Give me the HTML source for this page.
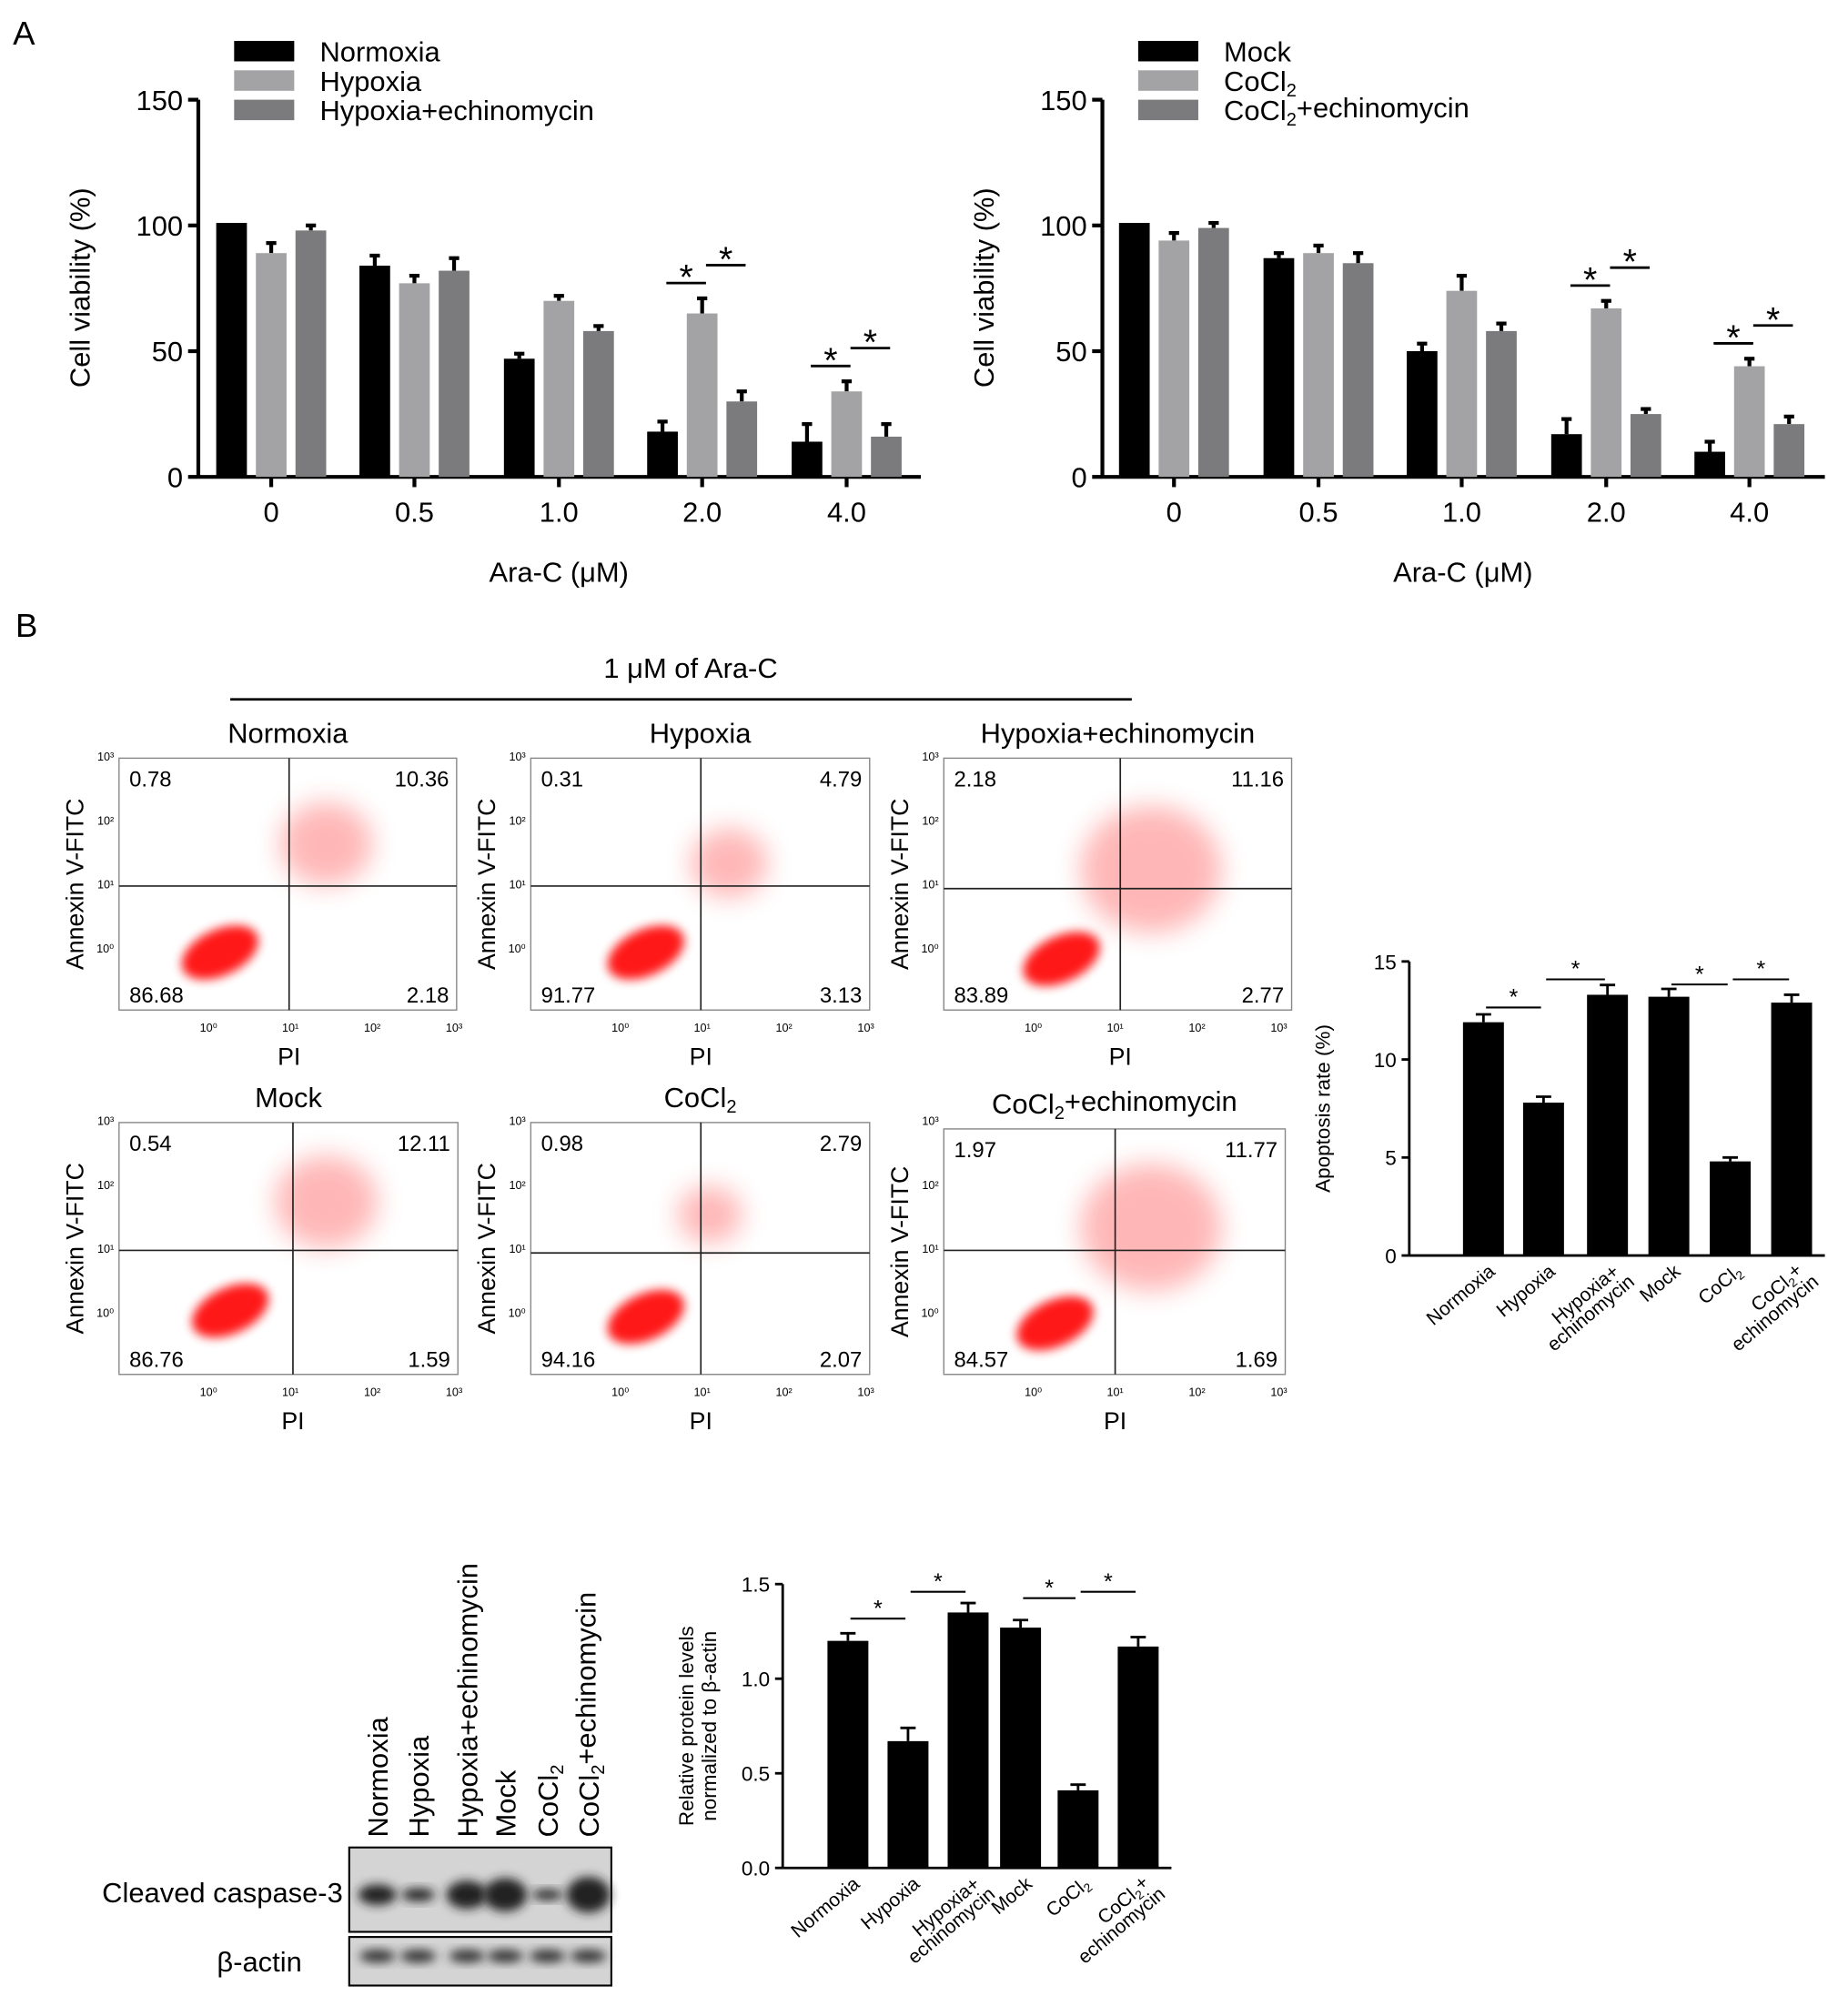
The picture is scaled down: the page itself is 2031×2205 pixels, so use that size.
<!DOCTYPE html>
<html><head><meta charset="utf-8"><style>
html,body{margin:0;padding:0;background:#fff}
svg{display:block;font-family:"Liberation Sans",Arial,sans-serif}
</style></head><body>
<svg id="fig" width="2031" height="2205" viewBox="0 0 1445 1569" xmlns="http://www.w3.org/2000/svg">
<defs><filter id="bl" x="-50%" y="-50%" width="200%" height="200%"><feGaussianBlur stdDeviation="4"/></filter>
<filter id="bl2" x="-50%" y="-50%" width="200%" height="200%"><feGaussianBlur stdDeviation="10"/></filter></defs>
<text x="10" y="35" font-size="26">A</text>
<text x="12" y="498" font-size="26">B</text>
<g id="g"></g>
</svg>
<script>
// Panel A data
const doses = ["0","0.5","1.0","2.0","4.0"];
const leftNames = ["Normoxia","Hypoxia","Hypoxia+echinomycin"];
const leftNorm = [101,84,47,18,14];
const leftHyp = [89,77,70,65,34];
const leftEch = [98,82,58,30,16];
const leftErr = [[0,4,2,4,7],[4,3,2,6,4],[2,5,2,4,5]];
const rightNames = ["Mock","CoCl2","CoCl2+echinomycin"];
const rightMock = [101,87,50,17,10];
const rightCo = [94,89,74,67,44];
const rightEch = [99,85,58,25,21];
const rightErr = [[0,2,3,6,4],[3,3,6,3,3],[2,4,3,2,3]];
const vTicks = [0,50,100,150];
// Apoptosis
const groups = ["Normoxia","Hypoxia","Hypoxia+\nechinomycin","Mock","CoCl2","CoCl2+\nechinomycin"];
const apopVals = [11.9,7.8,13.3,13.2,4.8,12.9];
const apopErr = [0.4,0.3,0.5,0.4,0.2,0.4];
const apopTicks = [0,5,10,15];
// Protein
const protVals = [1.20,0.67,1.35,1.27,0.41,1.17];
const protErr = [0.04,0.07,0.05,0.04,0.03,0.05];
const protTicks = [0,0.5,1.0,1.5];
// Flow quadrant numbers
const flowTitles = ["Normoxia","Hypoxia","Hypoxia+echinomycin","Mock","CoCl2","CoCl2+echinomycin"];
const flowQ = [[0.78,10.36,86.68,2.18],[0.31,4.79,91.77,3.13],[2.18,11.16,83.89,2.77],[0.54,12.11,86.76,1.59],[0.98,2.79,94.16,2.07],[1.97,11.77,84.57,1.69]];

const NS="http://www.w3.org/2000/svg";
const G=document.getElementById('g');
function el(t,a,p){const e=document.createElementNS(NS,t);for(const k in a)e.setAttribute(k,a[k]);(p||G).appendChild(e);return e;}
function txt(x,y,s,a,p){const e=el('text',Object.assign({x:x,y:y},a||{}),p);e.textContent=s;return e;}
function rich(e,s,first){
  const parts=s.split('CoCl2');
  parts.forEach((pt,i)=>{ if(i>0){const t1=el('tspan',{},e);t1.textContent='CoCl';const t2=el('tspan',{dy:'0.3em','font-size':'0.65em'},e);t2.textContent='2';const t3=el('tspan',{dy:'-0.3em'},e);t3.textContent=pt;} else if(pt){const t0=el('tspan',first||{},e);t0.textContent=pt;} });
}
function co(s,x,y,a,p){const e=el('text',Object.assign({x:x,y:y},a||{}),p);rich(e,s);return e;}

function panelA(ax,gx,series,names,errs,sigs,colors,legX,nm){
  const y0=373,y1=78,y=v=>y0-(v/150)*(y0-y1);
  const g=el('g',{});
  
  
  el('line',{x1:ax,y1:y1,x2:ax,y2:y0,stroke:'#000','stroke-width':3},g);
  el('line',{x1:ax,y1:y0,x2:ax+565,y2:y0,stroke:'#000','stroke-width':3},g);
  vTicks.forEach(t=>{el('line',{x1:ax-8,x2:ax,y1:y(t),y2:y(t),stroke:'#000','stroke-width':3},g);
    const l=txt(ax-12,y(t)+8,String(t),{'font-size':22,'text-anchor':'end'},g);
    });
  doses.forEach((d,i)=>{const cx=gx[i];
    el('line',{x1:cx,x2:cx,y1:y0,y2:y0+8,stroke:'#000','stroke-width':3},g);
    const l=txt(cx,y0+35,d,{'font-size':22,'text-anchor':'middle'},g);
    
    series.forEach((s,j)=>{const bx=cx-31+j*31;const v=s[i];const e=errs[j][i];
      if(e>0){el('line',{x1:bx,x2:bx,y1:y(v),y2:y(v+e),stroke:'#000','stroke-width':3},g);
        el('line',{x1:bx-4,x2:bx+4,y1:y(v+e),y2:y(v+e),stroke:'#000','stroke-width':3},g);}
      const r=el('rect',{x:bx-12,y:y(v),width:24,height:y0-y(v),fill:colors[j]},g);
      
      
    });
  });
  sigs.forEach(([i,a,b])=>{const top=series[1][i]+errs[1][i];
    const x1=gx[i]-31+a*31+3,x2=gx[i]-31+b*31+3;const yy=y(top)-(a===1?26:12);
    el('line',{x1:x1,x2:x2,y1:yy,y2:yy,stroke:'#000','stroke-width':2},g);
    const s=txt((x1+x2)/2,yy+5,'*',{'font-size':28,'text-anchor':'middle'},g);
    });
  const yl=txt(0,0,'Cell viability (%)',{'font-size':22,'text-anchor':'middle',transform:`translate(${ax-85},225) rotate(-90)`},g);
  
  const xl=txt(ax+282,455,'Ara-C (μM)',{'font-size':22,'text-anchor':'middle'},g);
  
  names.forEach((n,j)=>{const ly=32+j*23;
    const r=el('rect',{x:legX,y:ly,width:47,height:16,fill:colors[j]},g);
    
    const t=co(n,legX+67,ly+16,{'font-size':22},g);
    });
}
const cols=['#000','#a3a3a5','#7b7b7d'];
panelA(155,[212,324,437,549,662],[leftNorm,leftHyp,leftEch],leftNames,leftErr,[[3,0,1],[3,1,2],[4,0,1],[4,1,2]],cols,183,'viability-chart-hypoxia');
panelA(862,[918,1031,1143,1256,1368],[rightMock,rightCo,rightEch],rightNames,rightErr,[[3,0,1],[3,1,2],[4,0,1],[4,1,2]],cols,890,'viability-chart-cocl2');

const h=txt(540,530,'1 μM of Ara-C',{'font-size':22,'text-anchor':'middle'});

el('line',{x1:180,x2:885,y1:547,y2:547,stroke:'#000','stroke-width':2});

const boxes=[[93,593,357,790],[415,593,680,790],[738,593,1010,790],[93,878,358,1075],[415,878,680,1075],[738,883,1005,1075]];
const crossX=[226,548,876,229,548,872];
const crossY=[693,693,695,978,980,978];
const clusterX=[[172,745,255,660],[505,745,570,675],[830,750,900,680],[180,1025,255,940],[505,1030,555,950],[825,1035,900,960]];
const upperR=[36,30,55,40,25,55];
boxes.forEach((b,i)=>{const g=el('g',{});
  
  const [x1,y1,x2,y2]=b;
  const c=clusterX[i];
  el('ellipse',{cx:c[2],cy:c[3],rx:upperR[i],ry:upperR[i]*0.9,fill:'#f33',opacity:0.35,filter:'url(#bl2)'},g);
  el('ellipse',{cx:c[0],cy:c[1],rx:32,ry:18,fill:'#f00',opacity:0.9,filter:'url(#bl)',transform:`rotate(-25 ${c[0]} ${c[1]})`},g);
  el('rect',{x:x1,y:y1,width:x2-x1,height:y2-y1,fill:'none',stroke:'#888','stroke-width':1},g);
  el('line',{x1:crossX[i],x2:crossX[i],y1:y1,y2:y2,stroke:'#222','stroke-width':1.2},g);
  el('line',{x1:x1,x2:x2,y1:crossY[i],y2:crossY[i],stroke:'#222','stroke-width':1.2},g);
  const q=flowQ[i];
  txt(x1+8,y1+22,q[0].toFixed(2),{'font-size':17},g);
  txt(x2-6,y1+22,q[1].toFixed(2),{'font-size':17,'text-anchor':'end'},g);
  txt(x1+8,y2-6,q[2].toFixed(2),{'font-size':17},g);
  txt(x2-6,y2-6,q[3].toFixed(2),{'font-size':17,'text-anchor':'end'},g);
  co(flowTitles[i],(x1+x2)/2,y1-12,{'font-size':22,'text-anchor':'middle'},g);
  txt(crossX[i],y2+43,'PI',{'font-size':19,'text-anchor':'middle'},g);
  txt(0,0,'Annexin V-FITC',{'font-size':19,'text-anchor':'middle',transform:`translate(${x1-28},${(y1+y2)/2}) rotate(-90)`},g);
  ['10⁰','10¹','10²','10³'].forEach((t,k)=>{txt(x1+70+k*64,y2+17,t,{'font-size':9,'text-anchor':'middle'},g);
    txt(x1-4,y2-45-k*50,t,{'font-size':9,'text-anchor':'end'},g);});
});

function barChart(ax,y0,y1,vmax,vals,errs,ticks,cx,fmt,title,nm,sigY){
  const y=v=>y0-(v/vmax)*(y0-y1);
  const g=el('g',{});
  el('line',{x1:ax,x2:ax,y1:y1,y2:y0,stroke:'#000','stroke-width':2},g);
  el('line',{x1:ax,x2:cx[5]+26,y1:y0,y2:y0,stroke:'#000','stroke-width':2},g);
  ticks.forEach(t=>{el('line',{x1:ax-6,x2:ax,y1:y(t),y2:y(t),stroke:'#000','stroke-width':2},g);
    txt(ax-10,y(t)+6,fmt(t),{'font-size':16,'text-anchor':'end'},g);});
  vals.forEach((v,i)=>{const e=errs[i];
    el('line',{x1:cx[i],x2:cx[i],y1:y(v),y2:y(v+e),stroke:'#000','stroke-width':2},g);
    el('line',{x1:cx[i]-6,x2:cx[i]+6,y1:y(v+e),y2:y(v+e),stroke:'#000','stroke-width':2},g);
    const r=el('rect',{x:cx[i]-16,y:y(v),width:32,height:y0-y(v),fill:'#000'},g);
    
    
    const lines=groups[i].split('\n');
    lines.forEach((ln,k)=>{
      const t=el('text',{x:0,y:0,'font-size':15,'text-anchor':'end',transform:`translate(${cx[i]+10+k*12},${y0+14+k*8}) rotate(-40)`},g);
      rich(t,ln);
      
    });
  });
  [[0,1],[1,2],[3,4],[4,5]].forEach(([a,b])=>{const yy=sigY(a,b,y);
    el('line',{x1:cx[a]+2,x2:cx[b]-2,y1:yy,y2:yy,stroke:'#000','stroke-width':1.5},g);
    txt((cx[a]+cx[b])/2,yy-2,'*',{'font-size':18,'text-anchor':'middle'},g);});
  const tl=title.split('\n');
  const tt=el('text',{'font-size':16,'text-anchor':'middle',transform:`translate(${ax-62+(tl.length>1?-8:0)},${(y0+y1)/2}) rotate(-90)`},g);
  tl.forEach((l,k)=>{const s=el('tspan',{x:0,dy:k?18:0},tt);s.textContent=l;});
}
barChart(1102,982,752,15,apopVals,apopErr,apopTicks,[1160,1207,1257,1305,1353,1401],t=>String(t),'Apoptosis rate (%)','apoptosis-chart',
  (a,b,y)=>[788,766,0,770,766][a]);
barChart(612,1461,1239,1.5,protVals,protErr,protTicks,[663,710,757,798,843,890],t=>t.toFixed(1),'Relative protein levels\nnormalized to β-actin','protein-chart',
  (a,b,y)=>[1266,1245,0,1250,1245][a]);

const wb=el('g',{});
el('rect',{x:273,y:1445,width:205,height:66,fill:'#d4d4d4',stroke:'#000','stroke-width':1.5},wb);
el('rect',{x:273,y:1515,width:205,height:38,fill:'#d4d4d4',stroke:'#000','stroke-width':1.5},wb);
const laneX=[295,327,365,395,428,460];
const bandW=[26,22,28,30,20,30],bandH=[14,8,20,24,6,26];
laneX.forEach((x,i)=>{
  el('ellipse',{cx:x,cy:1482,rx:bandW[i]/2+2,ry:bandH[i]/2+1,fill:'#222',filter:'url(#bl)'},wb);
  el('ellipse',{cx:x,cy:1530,rx:14,ry:5,fill:'#333',filter:'url(#bl)'},wb);
  co(flowTitles[i],0,0,{'font-size':22,transform:`translate(${x+8},1437) rotate(-90)`},wb);
});
txt(268,1488,'Cleaved caspase-3',{'font-size':22,'text-anchor':'end'},wb);
txt(236,1542,'β-actin',{'font-size':22,'text-anchor':'end'},wb);
</script>
</body></html>
